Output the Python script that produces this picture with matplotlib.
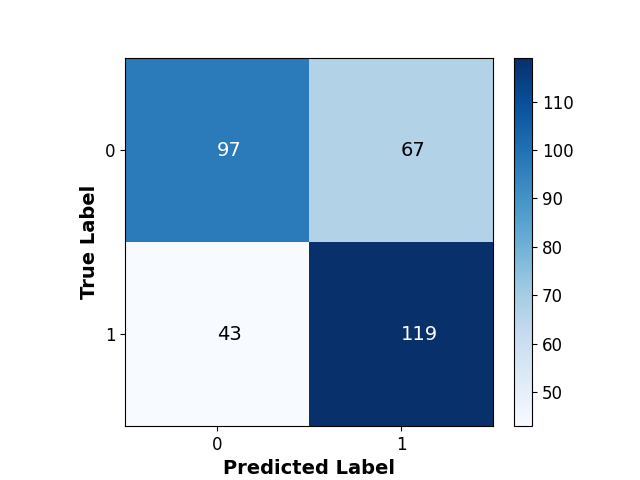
import matplotlib
matplotlib.use("Agg")
import matplotlib.pyplot as plt
import numpy as np

classes = ["0", "1"]
cm = np.array([[97, 67], [43, 119]])

fig = plt.figure(figsize=(6.4, 4.8), dpi=100)
ax = fig.add_axes([125/640, 54/480, 368/640, 368/480])
cax = fig.add_axes([514/640, 54/480, 18/640, 368/480])
im = ax.imshow(cm, interpolation="nearest", cmap="Blues")
cbar = fig.colorbar(im, cax=cax)
cbar.ax.tick_params(labelsize=12)
ax.set_xticks(np.arange(len(classes)))
ax.set_yticks(np.arange(len(classes)))
ax.set_xticklabels(classes, fontsize=12)
ax.set_yticklabels(classes, fontsize=12)
thresh = (cm.max() + cm.min()) / 2
for i in range(cm.shape[0]):
    for j in range(cm.shape[1]):
        ax.text(j, i, str(cm[i, j]), ha="left", va="center", fontsize=14,
                color="white" if cm[i, j] > thresh else "black")
ax.set_xlabel("Predicted Label", fontsize=14, fontweight="bold")
ax.set_ylabel("True Label", fontsize=14, fontweight="bold")
fig.savefig("out.png", dpi=100)
